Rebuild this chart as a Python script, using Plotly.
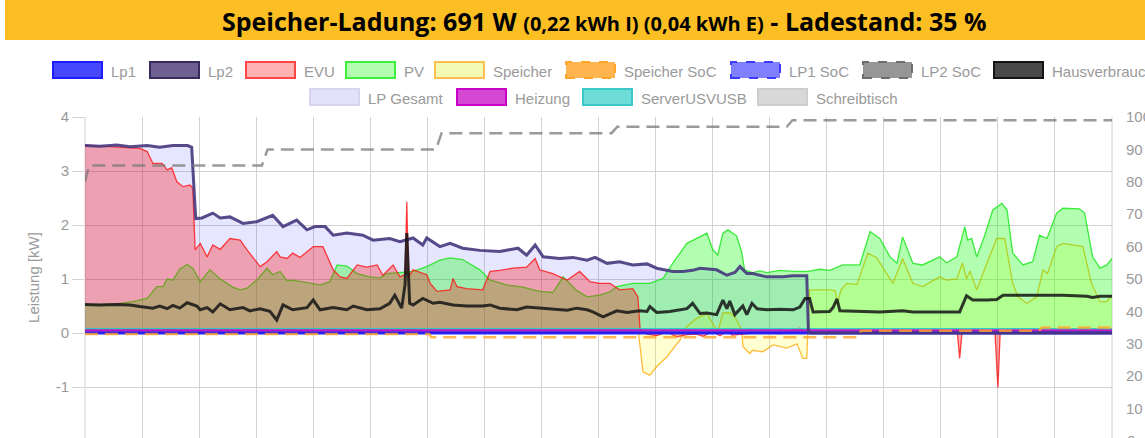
import plotly.graph_objects as go

# ---------------- data (time in minutes from start, power in kW, SoC in %) ----------------
lp2_t = [0, 2.6, 5.6, 7.9, 10.9, 13.1, 15.4, 18.0, 18.7, 19.1, 19.4, 20.5, 22.4, 23.7, 25.4, 27.7,
         30.1, 32.9, 34.7, 37.1, 38.9, 40.3, 42.1, 43.5, 45.9, 48.7, 50.5, 53.4, 55.2, 57.5, 59.2,
         59.9, 62.2, 64.0, 66.2, 69.2, 72.7, 75.9, 77.4, 78.9, 80.3, 83.2, 85.5, 88.0, 89.4, 91.5,
         93.7, 96.0, 98.5, 100.2, 102.0, 103.0, 104.8, 106.5, 107.8, 110.7, 112.5, 113.9, 114.8,
         116.0, 117.0, 119.5, 122.3, 124.1, 126.5, 126.8, 127.2, 180]
lp2_kw = [3.47, 3.46, 3.48, 3.45, 3.47, 3.44, 3.47, 3.47, 3.44, 2.6, 2.12, 2.13, 2.22, 2.13, 2.15, 2.03,
          2.06, 2.18, 1.97, 2.09, 1.91, 1.97, 1.97, 1.81, 1.85, 1.81, 1.72, 1.75, 1.69, 1.76, 1.63,
          1.76, 1.60, 1.66, 1.57, 1.53, 1.51, 1.57, 1.44, 1.63, 1.41, 1.38, 1.40, 1.35, 1.40, 1.29,
          1.32, 1.26, 1.28, 1.20, 1.17, 1.14, 1.14, 1.16, 1.20, 1.17, 1.07, 1.12, 1.23,
          1.10, 1.10, 1.04, 1.04, 1.06, 1.06, 0.02, 0.0, 0.0]
lp1_t = [0, 180]
lp1_kw = [0.0, 0.0]
lp_gesamt_kw = lp2_kw  # Lp1 is zero over the whole period

evu_t = [0, 5.6, 7.4, 9.6, 10.9, 11.9, 13.5, 14.4, 15.2, 16.1, 17.2, 18.4, 18.9, 19.3, 20.2, 21.4,
         22.4, 23.7, 25.4, 27.2, 28.4, 30.7, 31.9, 33.6, 34.2, 35.4, 36.4, 37.7, 40.0, 41.7, 43.5,
         44.7, 45.9, 47.7, 49.4, 51.2, 52.2, 54.0, 55.2, 56.1, 56.4, 56.7, 57.5, 59.2, 59.9, 60.5,
         61.7, 64.0, 64.5, 65.2, 66.9, 69.7, 71.0, 72.7, 75.0, 77.4, 78.9, 79.7, 82.0, 84.5, 86.7,
         88.5, 90.2, 92.0, 93.7, 96.0, 96.9, 97.3, 98.5, 100.2, 102.0, 103.7, 105.5, 107.2, 108.3,
         110.0, 111.3, 112.5, 113.4, 115.3, 117.8, 121.8, 125.3, 126.2, 130, 140, 150, 152.9, 153.3,
         153.7, 159.5, 160.0, 160.4, 170, 180]
evu_kw = [3.48, 3.45, 3.43, 3.42, 3.36, 3.14, 3.14, 3.02, 3.06, 2.80, 2.71, 2.74, 2.68, 1.54, 1.66, 1.41,
          1.63, 1.55, 1.75, 1.72, 1.54, 1.23, 1.32, 1.51, 1.41, 1.38, 1.48, 1.40, 1.60, 1.60, 1.17,
          1.04, 1.01, 1.26, 1.22, 1.26, 1.07, 1.26, 1.04, 1.08, 2.43, 1.04, 1.17, 1.10, 1.08, 0.92,
          0.77, 0.80, 1.01, 0.86, 0.82, 0.80, 1.14, 1.16, 1.20, 1.22, 1.38, 1.17, 1.10, 0.98, 1.14,
          0.95, 0.92, 0.92, 0.80, 0.82, 0.67, 0.06, -0.02, -0.05, 0.02, -0.07, -0.03, -0.02, -0.06,
          0.03, -0.05, 0.04, -0.04, -0.02, 0.01, -0.01, 0.09, 0.01, 0.0, 0.02, 0.0, 0.0, -0.47,
          0.0, 0.0, -1.01, 0.0, 0.02, 0.0]

pv_t = [0, 5.6, 8.4, 10.9, 12.6, 13.7, 14.4, 15.4, 16.6, 17.9, 18.9, 20.2, 21.9, 23.7, 25.9, 27.2,
        28.4, 30.1, 31.9, 32.9, 34.2, 35.4, 36.4, 38.9, 41.2, 42.9, 44.2, 45.9, 47.7, 49.9, 51.7,
        52.9, 55.2, 57.5, 59.9, 62.2, 64.0, 66.2, 69.2, 71.0, 73.9, 76.7, 79.7, 82.0, 83.8, 85.0,
        86.0, 88.0, 90.2, 92.0, 93.2, 96.0, 99.0, 101.3, 103.0, 105.5, 108.3, 109.0, 110.0, 110.9,
        111.8, 112.7, 114.2, 115.1, 115.6, 117.0, 118.3, 119.5, 121.8, 124.1, 126.7, 128.8, 130.5,
        132.8, 135.8, 137.6, 139.3, 141.1, 142.3, 143.3, 145.1, 146.8, 149.8, 151.0, 152.8, 154.2,
        154.7, 155.4, 156.3, 157.7, 159.1, 160.7, 161.6, 162.6, 164.4, 166.1, 167.3, 168.6, 170.3,
        171.4, 174.3, 175.2, 176.6, 177.9, 179.1, 180]
pv_kw = [0.52, 0.54, 0.58, 0.64, 0.86, 0.86, 1.00, 0.98, 1.18, 1.27, 1.20, 0.95, 1.17, 1.00, 0.85, 0.80,
         0.83, 0.98, 1.20, 1.08, 1.14, 0.97, 0.98, 0.93, 0.89, 0.95, 1.26, 1.24, 1.10, 1.04, 1.02,
         1.10, 1.12, 1.14, 1.23, 1.35, 1.39, 1.36, 1.17, 0.98, 0.89, 0.85, 0.77, 0.75, 1.04, 0.90,
         0.80, 0.67, 0.70, 0.76, 0.86, 0.92, 0.92, 1.01, 1.29, 1.66, 1.81, 1.85, 1.55, 1.44,
         1.85, 1.91, 1.80, 1.50, 1.17, 1.12, 1.15, 1.12, 1.16, 1.14, 1.14, 1.18, 1.16,
         1.26, 1.26, 1.88, 1.75, 1.41, 1.29, 1.78, 1.29, 1.26, 1.41, 1.30, 1.41, 1.97,
         1.72, 1.75, 1.41, 1.81, 2.28, 2.40, 2.28, 1.48, 1.26, 1.32, 1.81, 1.75, 2.22,
         2.31, 2.30, 2.22, 1.41, 1.20, 1.26, 1.38]

speicher_t = [0, 97.0, 97.8, 99.0, 100.2, 102.0, 104.3, 105.5, 107.2, 109.0, 110.0, 110.9, 111.8,
              113.0, 113.9, 115.1, 115.3, 116.5, 117.0, 118.8, 120.6, 123.0, 124.8, 125.8, 126.5,
              127.0, 130.5, 131.5, 131.9, 132.5, 133.5, 135.3, 137.2, 138.8, 140.5, 141.6, 143.3,
              145.1, 146.8, 149.8, 151.0, 152.8, 153.8, 154.5, 155.1, 156.3, 158.1, 159.8, 161.2,
              162.6, 163.5, 165.1, 166.8, 167.9, 168.7, 170.3, 171.4, 174.9, 176.4, 177.9, 179.1, 180]
speicher_kw = [0.0, 0.0, -0.72, -0.78, -0.62, -0.44, -0.13, 0.12, 0.27, 0.36, 0.18, 0.02, 0.37,
               0.38, 0.30, 0.05, -0.25, -0.38, -0.32, -0.35, -0.22, -0.28, -0.20, -0.47, -0.47,
               0.80, 0.80, 0.78, 0.55, 0.80, 0.92, 0.90, 1.48, 1.39, 1.10, 0.92, 1.38,
               0.92, 0.86, 1.04, 0.98, 1.00, 1.30, 1.00, 1.15, 0.80, 1.30, 1.75, 1.75,
               0.92, 0.67, 0.55, 0.67, 1.17, 1.10, 1.60, 1.66, 1.60, 0.92, 0.58, 0.58, 0.70]

haus_t = [0, 2.6, 5.6, 7.9, 9.6, 11.9, 13.1, 14.4, 15.4, 16.6, 17.9, 18.4, 19.6, 20.2, 21.4, 22.4,
          23.7, 25.4, 27.7, 28.9, 30.7, 32.4, 33.6, 34.7, 36.4, 38.9, 40.0, 41.2, 43.5, 45.9, 47.0,
          49.4, 51.7, 53.4, 54.3, 55.5, 56.1, 56.4, 56.9, 57.5, 59.2, 61.0, 62.2, 64.5, 66.9, 69.7,
          71.0, 72.7, 75.7, 77.4, 79.7, 82.0, 84.5, 86.2, 88.0, 89.0, 90.8, 93.2, 95.0, 97.2, 98.5,
          99.0, 100.2, 102.5, 105.5, 106.5, 107.8, 109.0, 110.7, 111.8, 112.5, 113.0, 113.9, 115.3,
          116.0, 116.9, 117.8, 119.5, 121.8, 124.1, 125.3, 126.2, 127.0, 127.6, 130.5, 131.1, 131.8,
          132.3, 136.3, 139.3, 143.3, 145.1, 148.1, 153.3, 154.5, 155.6, 158.1, 159.8, 160.9, 163.8,
          167.3, 171.4, 175.6, 176.6, 177.9, 180]
haus_kw = [0.53, 0.52, 0.53, 0.52, 0.49, 0.46, 0.50, 0.45, 0.51, 0.46, 0.56, 0.54, 0.50, 0.43, 0.47, 0.39,
           0.54, 0.43, 0.47, 0.41, 0.45, 0.40, 0.24, 0.52, 0.43, 0.47, 0.61, 0.43, 0.47, 0.43, 0.50,
           0.43, 0.45, 0.55, 0.70, 0.46, 0.90, 1.85, 0.55, 0.52, 0.64, 0.55, 0.57, 0.52, 0.50, 0.50,
           0.52, 0.46, 0.43, 0.48, 0.46, 0.43, 0.42, 0.46, 0.43, 0.39, 0.30, 0.41, 0.38, 0.41, 0.40,
           0.49, 0.38, 0.40, 0.45, 0.55, 0.36, 0.37, 0.34, 0.61, 0.45, 0.59, 0.34, 0.50,
           0.34, 0.55, 0.45, 0.43, 0.44, 0.43, 0.48, 0.64, 0.64, 0.39, 0.40, 0.47, 0.63,
           0.41, 0.40, 0.39, 0.41, 0.39, 0.39, 0.39, 0.69, 0.61, 0.61, 0.62, 0.70, 0.70,
           0.71, 0.70, 0.68, 0.66, 0.68, 0.68]

heizung_t = [0, 180]
heizung_kw = [0.05, 0.05]
server_t = [0, 180]
server_kw = [0.08, 0.08]
schreibtisch_t = [0, 180]
schreibtisch_kw = [0.02, 0.02]

lp2_soc_t = [0, 0.7, 31.0, 32.0, 61.5, 62.5, 92.3, 93.3, 123.0, 124.0, 180]
lp2_soc = [80, 85, 85, 90, 90, 95, 95, 97, 97, 99, 99]
lp1_soc_t = [0, 180]
lp1_soc = [0, 0]
speicher_soc_t = [0, 60.3, 60.7, 135.5, 136.0, 167.2, 167.7, 180]
speicher_soc = [33, 33, 32, 32, 34, 34, 35, 35]

kw_ticks = [-1, 0, 1, 2, 3, 4]
kw_ticktext = ["-1", "0", "1", "2", "3", "4"]
soc_ticks = [10, 20, 30, 40, 50, 60, 70, 80, 90, 100]

title_main = "Speicher-Ladung: 691 W"
title_energy = "(0,22 kWh I) (0,04 kWh E)"
title_soc = "- Ladestand: 35 %"

legend_row1 = ["Lp1", "Lp2", "EVU", "PV", "Speicher", "Speicher SoC", "LP1 SoC", "LP2 SoC", "Hausverbrauch"]
legend_row2 = ["LP Gesamt", "Heizung", "ServerUSVUSB", "Schreibtisch"]

# ---------------- layout geometry ----------------
W, H = 1145, 438
PL, PR, PT, PB = 85, 1112, 117, 438
GRID = "#d2d2d2"
TXT = "#9a9a9a"
FONT = "Liberation Sans, Arial"


def xp(px):
    return (px - PL) / (PR - PL)


def yp(py):
    return (PB - py) / (PB - PT)


fig = go.Figure()


def area(x, y, fillc, linec, width, name):
    fig.add_trace(go.Scatter(x=x, y=y, mode="lines", fill="tozeroy", fillcolor=fillc,
                             line=dict(color=linec, width=width), name=name, showlegend=False))


area(lp2_t, lp_gesamt_kw, "rgba(60,60,255,0.13)", "rgba(0,0,0,0)", 0, "LP Gesamt")
area(speicher_t, speicher_kw, "rgba(255,255,0,0.18)", "rgba(255,165,0,0.75)", 1.3, "Speicher")
area(pv_t, pv_kw, "rgba(0,255,0,0.3)", "rgba(20,230,20,0.8)", 1.3, "PV")
area(evu_t, evu_kw, "rgba(255,0,0,0.3)", "rgba(255,20,20,0.8)", 1.3, "EVU")
area(schreibtisch_t, schreibtisch_kw, "rgba(200,200,200,0.4)", "rgba(190,190,190,0.8)", 1, "Schreibtisch")
area(server_t, server_kw, "rgba(0,190,190,0.35)", "rgba(40,200,200,0.9)", 1.2, "ServerUSVUSB")
area(heizung_t, heizung_kw, "rgba(200,0,200,0.5)", "rgba(200,0,200,0.85)", 2, "Heizung")
area(lp1_t, lp1_kw, "rgba(0,0,255,0.6)", "rgba(20,20,255,0.9)", 3, "Lp1")

fig.add_trace(go.Scatter(x=lp2_t, y=lp2_kw, mode="lines", name="Lp2", showlegend=False,
                         line=dict(color="rgba(70,55,125,0.9)", width=3)))
fig.add_trace(go.Scatter(x=haus_t, y=haus_kw, mode="lines", name="Hausverbrauch", showlegend=False,
                         line=dict(color="rgba(20,20,20,0.85)", width=3)))

for tx, ty, col, nm in [(lp2_soc_t, lp2_soc, "rgba(120,120,120,0.75)", "LP2 SoC"),
                        (lp1_soc_t, lp1_soc, "rgba(60,60,255,0.75)", "LP1 SoC"),
                        (speicher_soc_t, speicher_soc, "rgba(255,165,40,0.8)", "Speicher SoC")]:
    fig.add_trace(go.Scatter(x=tx, y=ty, mode="lines", name=nm, showlegend=False, yaxis="y2",
                             line=dict(color=col, width=2.5, dash="13px,7px")))

# ---------------- legend (drawn as boxes + text) ----------------
leg_styles = {
    "Lp1": ("rgb(72,72,255)", "rgb(30,30,255)", "solid"),
    "Lp2": ("rgb(110,96,145)", "rgb(55,42,95)", "solid"),
    "EVU": ("rgb(255,178,178)", "rgb(255,70,70)", "solid"),
    "PV": ("rgb(178,255,178)", "rgb(60,240,60)", "solid"),
    "Speicher": ("rgb(242,250,180)", "rgb(255,190,80)", "solid"),
    "Speicher SoC": ("rgb(255,180,80)", "rgb(255,165,40)", "dash"),
    "LP1 SoC": ("rgb(128,128,255)", "rgb(60,60,255)", "dash"),
    "LP2 SoC": ("rgb(150,150,150)", "rgb(110,110,110)", "dash"),
    "Hausverbrauch": ("rgb(72,72,72)", "rgb(20,20,20)", "solid"),
    "LP Gesamt": ("rgb(226,226,250)", "rgb(214,214,238)", "solid"),
    "Heizung": ("rgb(212,72,212)", "rgb(200,0,200)", "solid"),
    "ServerUSVUSB": ("rgb(110,220,215)", "rgb(60,200,200)", "solid"),
    "Schreibtisch": ("rgb(216,216,216)", "rgb(206,206,206)", "solid"),
}
row1_x = [52, 149, 245, 345, 434, 565, 730, 862, 993]
row2_x = [309, 456, 582, 757]
shapes, annos = [], []
for names, xs, yc in [(legend_row1, row1_x, 70), (legend_row2, row2_x, 97)]:
    for nm, x0 in zip(names, xs):
        fc, lc, dsh = leg_styles[nm]
        shapes.append(dict(type="rect", xref="paper", yref="paper",
                           x0=xp(x0 + 1), x1=xp(x0 + 50), y0=yp(yc + 8), y1=yp(yc - 8),
                           fillcolor=fc, line=dict(color=lc, width=2, dash=dsh), layer="above"))
        annos.append(dict(xref="paper", yref="paper", x=xp(x0 + 57), y=yp(yc + 1), text=nm,
                          showarrow=False, xanchor="left", yanchor="middle",
                          font=dict(family=FONT, size=15, color=TXT)))

# plot frame lines (left / right edges)
for xx in (0, 1):
    shapes.append(dict(type="line", xref="paper", yref="paper", x0=xx, x1=xx, y0=0, y1=1,
                       line=dict(color=GRID, width=1), layer="below"))

# title bar
shapes.append(dict(type="rect", xref="paper", yref="paper", x0=xp(5), x1=xp(1146), y0=yp(40), y1=yp(0),
                   fillcolor="rgb(251,191,36)", line=dict(width=0), layer="above"))
annos.append(dict(xref="paper", yref="paper", x=xp(604), y=yp(21), showarrow=False,
                  xanchor="center", yanchor="middle",
                  text=f"<b>{title_main} <span style='font-size:20px'>{title_energy}</span> {title_soc}</b>",
                  font=dict(family="Open Sans", size=25, color="black")))

# partially visible bottom tick labels
annos.append(dict(xref="paper", yref="paper", x=xp(71), y=yp(442), text="-2", showarrow=False,
                  xanchor="right", yanchor="middle", font=dict(family=FONT, size=15, color=TXT)))
annos.append(dict(xref="paper", yref="paper", x=xp(1125), y=yp(441), text="0", showarrow=False,
                  xanchor="left", yanchor="middle", font=dict(family=FONT, size=15, color=TXT)))

fig.update_layout(
    width=W, height=H,
    margin=dict(l=PL, r=W - PR, t=PT, b=H - PB, pad=0, autoexpand=False),
    paper_bgcolor="white", plot_bgcolor="white",
    shapes=shapes, annotations=annos,
    xaxis=dict(range=[0, 180], dtick=10, tick0=0, showgrid=True, gridcolor=GRID, gridwidth=1,
               zeroline=False, showticklabels=False, showline=False, fixedrange=True, automargin=False),
    yaxis=dict(range=[4 - (PB - PT) / 54.0, 4], tickvals=kw_ticks, ticktext=kw_ticktext, showgrid=True,
               gridcolor=GRID, zeroline=False, ticks="outside", ticklen=12, tickcolor=GRID,
               automargin=False,
               tickfont=dict(family=FONT, size=15, color=TXT),
               title=dict(text="Leistung [kW]", standoff=12,
                          font=dict(family=FONT, size=15, color=TXT))),
    yaxis2=dict(overlaying="y", side="right", range=[100 - (PB - PT) / 3.24, 100],
                tickvals=soc_ticks, showgrid=False, zeroline=False, automargin=False,
                ticks="outside", ticklen=10, tickcolor="rgba(0,0,0,0)",
                tickfont=dict(family=FONT, size=15, color=TXT)),
    showlegend=False,
)

fig.write_html("out.html", config={"displayModeBar": False},
               post_script="document.body.style.margin='0px';")
